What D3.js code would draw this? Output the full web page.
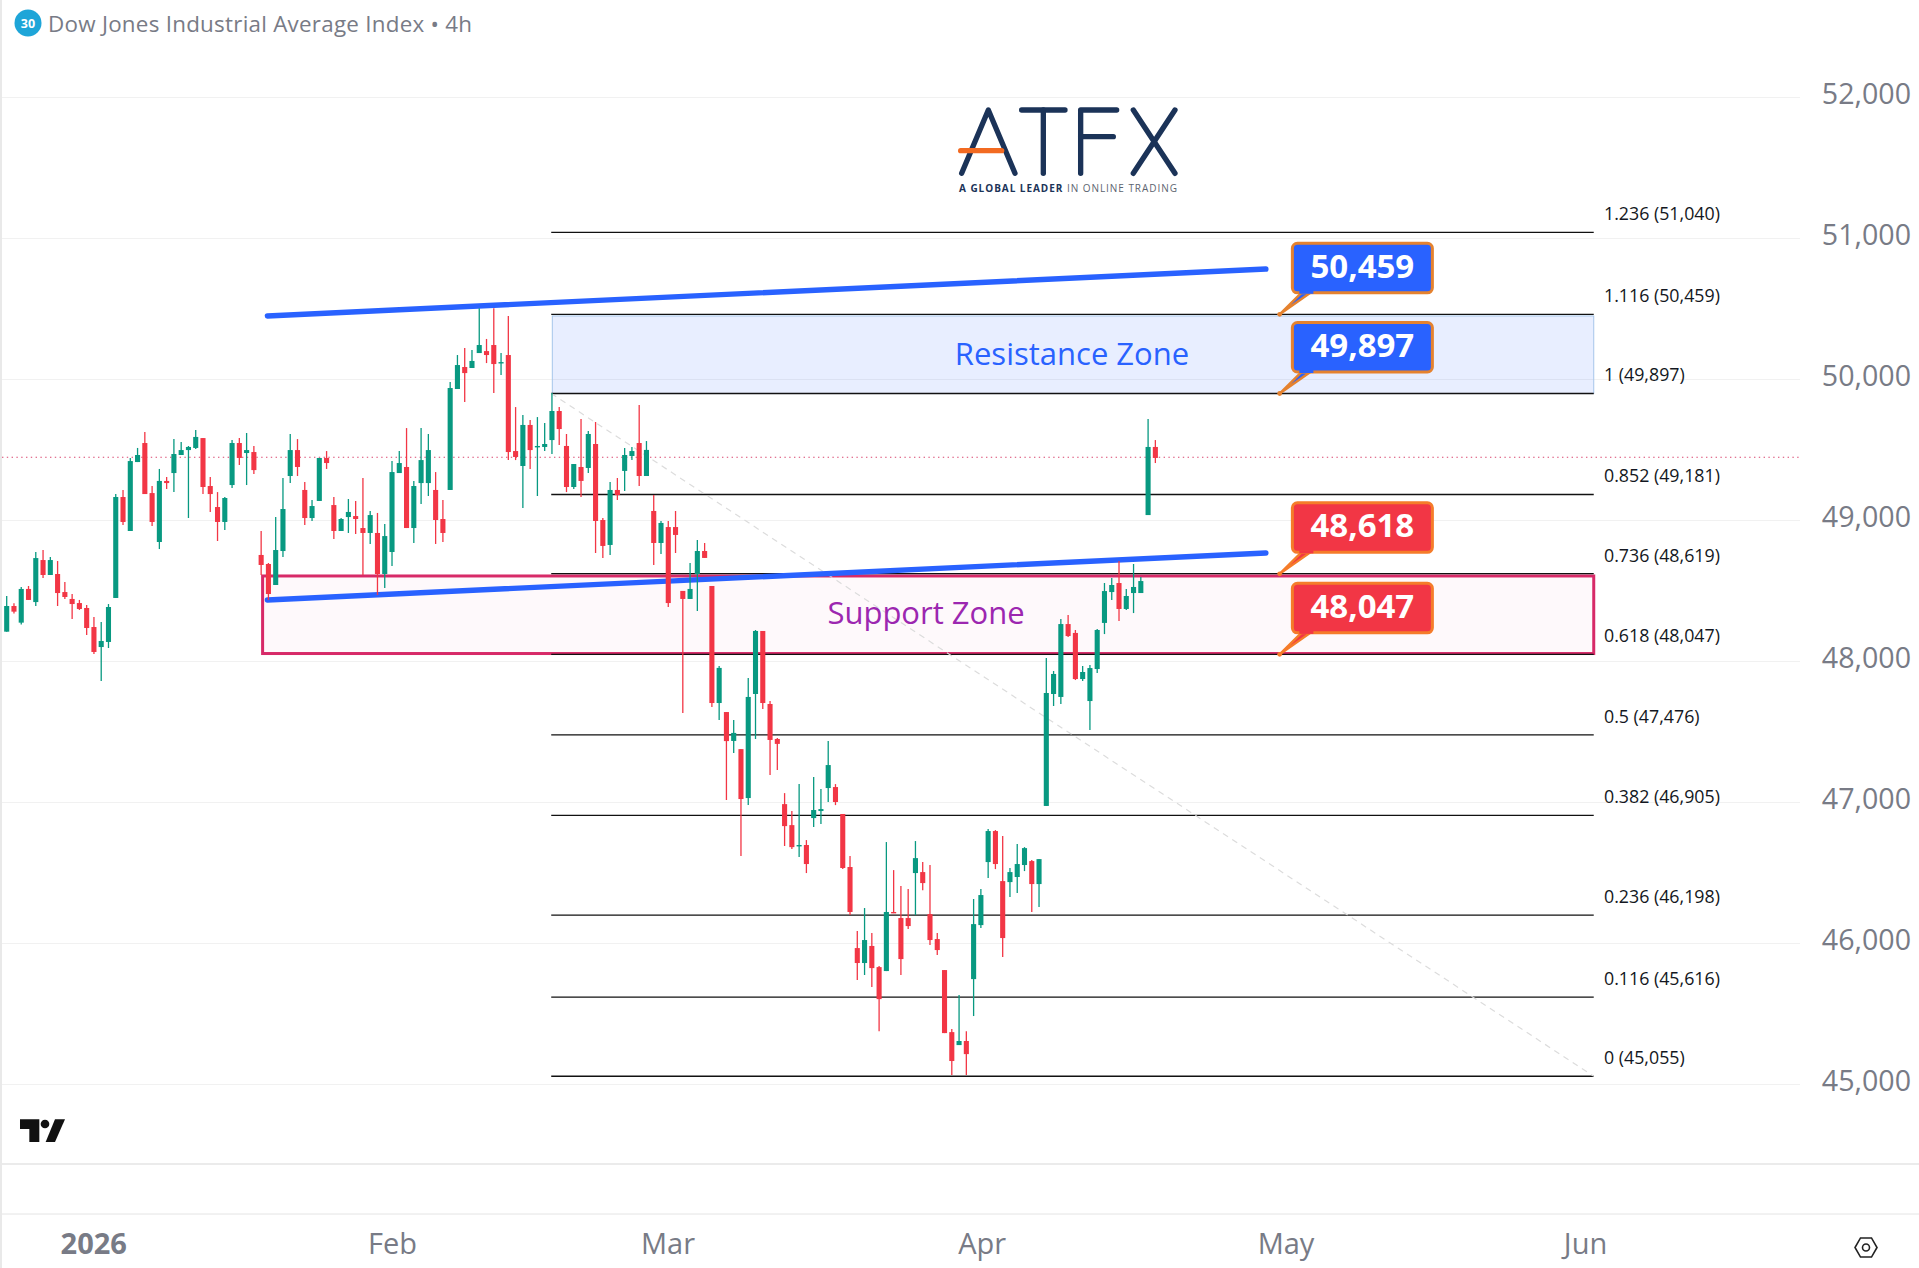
<!DOCTYPE html>
<html><head><meta charset="utf-8">
<script src="https://cdnjs.cloudflare.com/ajax/libs/d3/7.8.5/d3.min.js"></script>
<style>html,body{margin:0;padding:0;background:#fff}svg{display:block}text{font-family:"Open Sans",sans-serif}</style>
</head><body><svg id="c" width="1919" height="1268"></svg>
<script>
const candleOpen=[48208,48390,48272,48511,48418,48716,48610,48617,48489,48440,
48411,48376,48241,48099,48135,48447,49163,48922,49411,49546,
49191,48844,49277,49333,49461,49496,49511,49581,49241,49092,
48986,49248,49546,49475,49482,48752,48688,48539,48780,49312,
49496,49213,49014,49135,49440,49106,48922,49021,49028,48943,
48908,48908,48617,48773,49333,49376,48943,49262,49262,49213,
49007,49213,49929,50085,50078,50184,50198,50241,50113,50170,
49489,49383,49674,49518,49518,49567,49773,49525,49234,49376,
49369,49539,49000,48823,49213,49348,49454,49546,49312,49064,
48837,48950,48950,48497,48440,48617,48780,48532,47702,47638,
47433,47375,47028,47766,48213,47695,47447,46985,46836,46688,
46695,46886,46936,47099,47106,46915,46539,45964,45858,45979,
45829,45801,46220,46177,46177,46496,46503,46205,46028,45808,
45368,45276,45305,45744,46127,46574,46794,46439,46432,46468,
46553,46581,46418,46972,47766,47745,48262,48199,47872,47716,
47943,48270,48489,48553,48369,48482,48482,49035,49518];
const candleHigh=[48461,48409,48525,48532,48773,48787,48737,48709,48560,48475,
48433,48397,48312,48277,48404,49184,49213,49440,49511,49624,
49241,49362,49305,49574,49553,49525,49638,49581,49305,49198,
49163,49567,49581,49617,49525,48922,48695,49021,49298,49610,
49574,49269,49142,49440,49489,49163,49014,49149,49135,49298,
49064,49050,48972,49418,49489,49652,49277,49652,49610,49340,
49142,49979,50170,50220,50206,50501,50284,50501,50184,50447,
49801,49745,49709,49730,49688,49901,49801,49610,49397,49716,
49631,49695,49014,49270,49298,49511,49518,49816,49560,49177,
48993,48993,49064,48497,48695,48858,48837,48532,47965,47638,
47582,47375,47880,48220,48213,47716,47454,47063,46936,47127,
46730,47177,47092,47432,47127,46915,46617,46085,46248,46071,
45836,46716,46517,46404,46383,46723,46574,46553,46071,45808,
45390,45631,45375,46312,46383,46808,46801,46758,46532,46702,
46680,46588,46595,48021,47929,48298,48326,48220,47964,47972,
48227,48553,48589,48709,48511,48688,48596,49716,49567];
const candleLow=[48208,48336,48258,48433,48390,48589,48610,48390,48440,48298,
48362,48184,48050,47858,48092,48447,48964,48922,49411,49184,
48957,48794,49220,49198,49461,49014,49503,49184,49057,48851,
48929,49227,49390,49248,49326,48610,48433,48539,48737,49262,
49312,48964,48993,49135,49362,48865,48922,48908,48901,48610,
48830,48468,48518,48674,49333,48943,48837,49113,49170,48830,
48844,49213,49929,49837,50078,50184,50113,49901,50028,49425,
49425,49085,49362,49170,49489,49468,49532,49198,49220,49163,
49333,48766,48731,48752,49142,49206,49426,49241,49312,48681,
48759,48383,48766,47631,48440,48355,48731,47674,47582,47014,
47348,46617,46978,47447,47660,47192,47227,46688,46666,46610,
46496,46822,46844,47000,46978,46524,46198,45737,45773,45688,
45375,45801,46212,45773,46099,46198,46375,45985,45915,45361,
45064,45276,45064,45482,46106,46461,46524,45900,46326,46354,
46510,46219,46255,46972,47681,47695,48170,47865,47858,47511,
47915,48191,48433,48284,48362,48340,48482,49035,49404];
const candleClose=[48390,48350,48511,48433,48730,48610,48716,48482,48454,48404,
48369,48234,48064,48142,48383,49163,48986,49418,49461,49184,
48986,49277,49262,49468,49496,49518,49589,49234,49184,48986,
49156,49546,49440,49496,49354,48681,48475,48787,49078,49496,
49376,49014,49099,49440,49404,48922,49007,49057,49007,48908,
49035,48617,48886,49340,49404,48943,49241,49425,49496,49000,
48908,49936,50099,50042,50128,50241,50170,50106,50120,49482,
49447,49674,49496,49525,49539,49773,49645,49234,49397,49277,
49610,48993,48816,49213,49177,49461,49489,49312,49497,48837,
48979,48411,48894,48440,48511,48780,48731,47702,47951,47432,
47490,47021,47745,48213,47702,47440,47412,46829,46680,46695,
46560,46943,46950,47262,47000,46532,46220,45858,46021,45822,
45602,46220,46212,45886,46120,46602,46425,46021,45950,45361,
45163,45305,45212,46134,46340,46794,46560,46035,46503,46560,
46673,46418,46595,47773,47908,48262,48177,47872,47922,47950,
48220,48496,48539,48369,48461,48525,48567,49518,49440];

const priceTicks=[52000,51000,50000,49000,48000,47000,46000,45000];
const monthLabels=["2026","Feb","Mar","Apr","May","Jun"];
const monthCandle=[11.9,53,90.9,134.1,175.9,217.1];
const fibRatios=["1.236","1.116","1","0.852","0.736","0.618","0.5","0.382","0.236","0.116","0"];
const fibValues=[51040,50459,49897,49181,48619,48047,47476,46905,46198,45616,45055];
const calloutValues=[50459,49897,48618,48047];
const calloutKinds=["up","up","down","down"];
const lastPrice=49445;

const W=1919,H=1268,plotRight=1800;
const svg=d3.select("#c");
const x=d3.scaleLinear().domain([0,158]).range([6.7,6.7+158*7.27]);
const y=d3.scaleLinear().domain([45000,52000]).range([1084,97]);
const bw=x(1)-x(0);
const fmt=d3.format(",");
const fibStart=74.9,fibEnd=218.3;
const calloutCandle=175.1;
const trendStart=35.86,trendEnd=173.2;
const trendUpper=[50447,50780],trendLower=[48433,48766];
const resistanceBand=[50447,49897],supportBand=[48603,48053];
const resistanceStart=75.05,supportStart=35.2,bandEnd=218.3;

svg.append("rect").attr("width",W).attr("height",H).attr("fill","#fff");
// frame
svg.append("rect").attr("x",0).attr("y",0).attr("width",2).attr("height",H).attr("fill","#e9e9e9");
svg.append("line").attr("x1",2).attr("x2",W).attr("y1",1164).attr("y2",1164).attr("stroke","#e4e4e4").attr("stroke-width",1.6);
svg.append("line").attr("x1",2).attr("x2",W).attr("y1",1214).attr("y2",1214).attr("stroke","#e4e4e4").attr("stroke-width",1);

// grid and price axis via d3 axes
const grid=svg.append("g").attr("transform","translate(2,0)")
 .call(d3.axisRight(y).tickValues(priceTicks).tickSize(plotRight-2).tickFormat(""));
grid.select(".domain").remove();
grid.selectAll("line").attr("stroke","#f1f1f1").attr("stroke-width",1);

const yAxis=svg.append("g").attr("transform","translate(1911,0)")
 .call(d3.axisRight(y).tickValues(priceTicks).tickSize(0).tickPadding(0).tickFormat(fmt));
yAxis.select(".domain").remove();
yAxis.selectAll("text").attr("text-anchor","end").attr("dy","0.24em").attr("fill","#787b86")
 .style("font-size","28.6px").style("font-family",'"Open Sans",sans-serif');

// time axis
const xAxis=svg.append("g").attr("transform","translate(0,1244)")
 .call(d3.axisBottom(x).tickValues(monthCandle).tickSize(0).tickPadding(0).tickFormat((d,i)=>monthLabels[i]));
xAxis.select(".domain").remove();
xAxis.selectAll("text").attr("dy","0.36em").attr("fill","#787b86")
 .style("font-size","29px").style("font-family",'"Open Sans",sans-serif')
 .style("font-weight",(d,i)=>i===0?"700":"400");

// zones
svg.append("rect").attr("x",x(resistanceStart)).attr("width",x(bandEnd)-x(resistanceStart))
 .attr("y",y(resistanceBand[0])).attr("height",y(resistanceBand[1])-y(resistanceBand[0]))
 .attr("fill","rgba(41,98,255,0.105)").attr("stroke","#a6c6ea").attr("stroke-width",1);
svg.append("rect").attr("x",x(supportStart)).attr("width",x(bandEnd)-x(supportStart))
 .attr("y",y(supportBand[0])).attr("height",y(supportBand[1])-y(supportBand[0]))
 .attr("fill","rgba(233,30,99,0.028)").attr("stroke","#d72a68").attr("stroke-width",3);

// fib levels
svg.append("g").selectAll("line").data(fibValues).join("line")
 .attr("x1",x(fibStart)).attr("x2",x(fibEnd)).attr("y1",d=>y(d)).attr("y2",d=>y(d))
 .attr("stroke","#111").attr("stroke-width",1.3);
svg.append("g").selectAll("text").data(fibValues).join("text")
 .attr("x",1604).attr("y",d=>y(d)-18.6).attr("dy","0.36em")
 .attr("font-size",17.8).attr("fill","#131722")
 .text((d,i)=>`${fibRatios[i]} (${fmt(d)})`);

// diagonal fib trend
svg.append("line").attr("x1",x(fibStart)).attr("y1",y(fibValues[2])).attr("x2",x(fibEnd)).attr("y2",y(fibValues[10]))
 .attr("stroke","#dcdcdc").attr("stroke-width",1.2).attr("stroke-dasharray","6 5");

// last price line
svg.append("line").attr("x1",2).attr("x2",plotRight).attr("y1",y(lastPrice)).attr("y2",y(lastPrice))
 .attr("stroke","#d9466f").attr("stroke-width",1).attr("stroke-dasharray","1.4 3.4");

// trendlines
[trendUpper,trendLower].forEach(t=>{
 svg.append("line").attr("x1",x(trendStart)).attr("x2",x(trendEnd)).attr("y1",y(t[0])).attr("y2",y(t[1]))
  .attr("stroke","#2962ff").attr("stroke-width",5.4).attr("stroke-linecap","round");
});

// candles
const idx=d3.range(candleOpen.length);
const col=i=>candleClose[i]>=candleOpen[i]?"#089981":"#f23645";
const cg=svg.append("g");
cg.selectAll("line").data(idx).join("line")
 .attr("x1",i=>x(i)).attr("x2",i=>x(i)).attr("y1",i=>y(candleHigh[i])).attr("y2",i=>y(candleLow[i]))
 .attr("stroke",col).attr("stroke-width",1.3);
cg.selectAll("rect").data(idx).join("rect")
 .attr("x",i=>x(i)-bw*0.35).attr("width",bw*0.7)
 .attr("y",i=>y(Math.max(candleOpen[i],candleClose[i])))
 .attr("height",i=>Math.max(1.4,Math.abs(y(candleOpen[i])-y(candleClose[i]))))
 .attr("fill",col);

// zone titles
svg.append("text").attr("x",1072).attr("y",354).attr("dy","0.36em").attr("text-anchor","middle")
 .attr("font-size",31).attr("fill","#2962ff").text("Resistance Zone");
svg.append("text").attr("x",926).attr("y",613).attr("dy","0.36em").attr("text-anchor","middle")
 .attr("font-size",31).attr("fill","#9c27b0").text("Support Zone");

// callouts
const boxW=140,boxH=49.5;
calloutValues.forEach((v,i)=>{
 const ax=x(calloutCandle),ay=y(v);
 const bx=ax+12.7,by=ay-71;
 const fill=calloutKinds[i]==="up"?"#2962ff":"#f23645";
 const stroke=calloutKinds[i]==="up"?"#e5822f":"#f57c2a";
 const g=svg.append("g");
 g.append("path").attr("d",`M${ax},${ay} L${bx+9},${by+boxH} L${bx+18},${by+boxH} Z`)
  .attr("fill",fill).attr("stroke",stroke).attr("stroke-width",2.4).attr("stroke-linejoin","round");
 g.append("rect").attr("x",bx).attr("y",by).attr("width",boxW).attr("height",boxH).attr("rx",5)
  .attr("fill",fill).attr("stroke",stroke).attr("stroke-width",3);
 g.append("rect").attr("x",bx+7).attr("y",by+boxH-2).attr("width",14).attr("height",3).attr("fill",fill);
 g.append("circle").attr("cx",ax).attr("cy",ay).attr("r",2.4).attr("fill",stroke);
 g.append("text").attr("x",bx+boxW/2).attr("y",by+boxH/2-2).attr("dy","0.36em").attr("text-anchor","middle")
  .attr("font-size",33).attr("font-weight",700).attr("fill","#fff").text(fmt(v));
});

// header
svg.append("circle").attr("cx",28).attr("cy",23).attr("r",13.5).attr("fill","#1ea5d8");
svg.append("text").attr("x",28).attr("y",23).attr("dy","0.36em").attr("text-anchor","middle")
 .attr("font-size",12.5).attr("font-weight",700).attr("fill","#fff").text("30");
svg.append("text").attr("x",48).attr("y",23.5).attr("dy","0.36em").attr("font-size",22.4).attr("letter-spacing",0.25).attr("fill","#787b86")
 .text("Dow Jones Industrial Average Index • 4h");

// ATFX logo
const logo=svg.append("g").attr("transform","translate(930,90) scale(0.3333)")
 .attr("fill","none").attr("stroke","#1b3358").attr("stroke-width",16).attr("stroke-linecap","round").attr("stroke-linejoin","round");
["M95,250 L175,60 L255,250","M275,60 L405,60","M340,60 L340,250","M560,60 L452,60 L452,250","M452,140 L550,140","M610,60 L735,250","M735,60 L610,250"]
 .forEach(d=>logo.append("path").attr("d",d));
logo.append("path").attr("d","M92,182 L215,182").attr("stroke","#f26a21");
const tag=svg.append("text").attr("x",959).attr("y",188).attr("dy","0.36em").attr("font-size",10).attr("fill","#5c6470")
 .attr("textLength",218).attr("lengthAdjust","spacing");
tag.append("tspan").attr("font-weight",700).attr("fill","#1b3358").text("A GLOBAL LEADER");
tag.append("tspan").text(" IN ONLINE TRADING");

// TradingView mark
const tv=svg.append("g").attr("transform","translate(0,1090) scale(0.3333)").attr("fill","#111");
tv.append("path").attr("d","M60,88 L118,88 L118,156 L88,156 L88,117 L60,117 Z");
tv.append("circle").attr("cx",135).attr("cy",102).attr("r",13);
tv.append("path").attr("d","M165,88 L195,88 L165,156 L137,156 Z");

// settings icon
const hex=d3.range(6).map(k=>[1866+11*Math.cos(k*Math.PI/3),1247.5+11*Math.sin(k*Math.PI/3)]);
svg.append("path").attr("d",d3.line()(hex)+"Z").attr("fill","none").attr("stroke","#222").attr("stroke-width",1.6);
svg.append("circle").attr("cx",1866).attr("cy",1247.5).attr("r",3.5).attr("fill","none").attr("stroke","#222").attr("stroke-width",1.6);
</script></body></html>
